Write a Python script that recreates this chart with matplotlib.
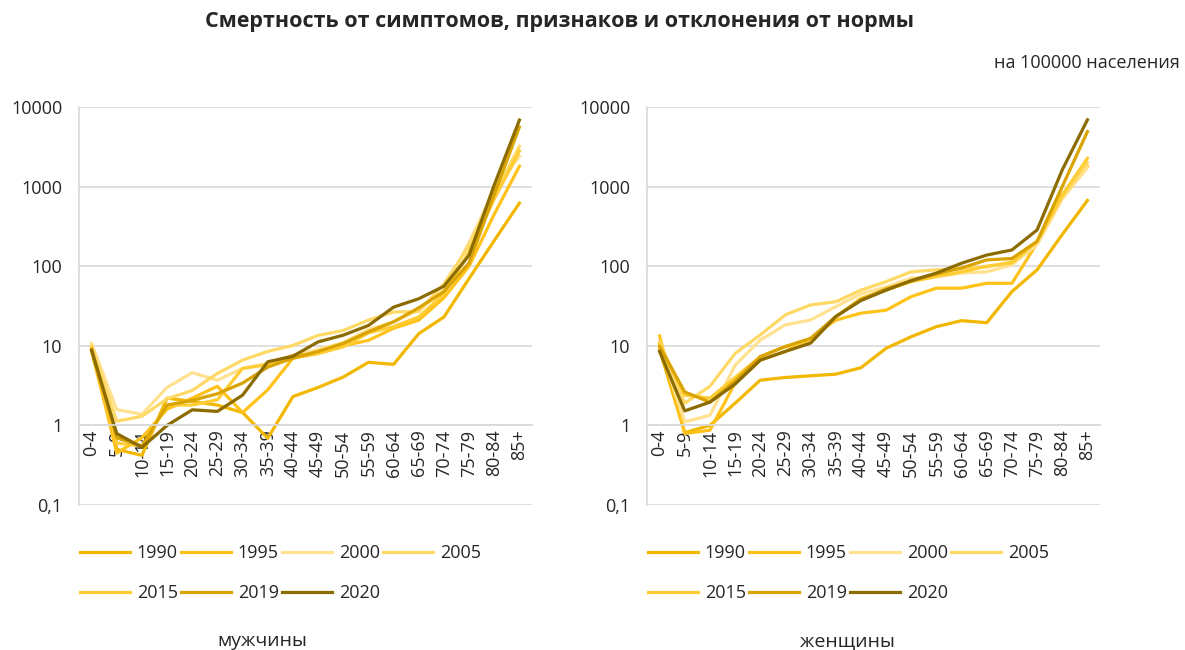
import matplotlib
matplotlib.use("Agg")
import matplotlib.pyplot as plt

plt.rcParams['font.family'] = ['Open Sans', 'DejaVu Sans']

categories = ["0-4", "5-9", "10-14", "15-19", "20-24", "25-29", "30-34", "35-39",
              "40-44", "45-49", "50-54", "55-59", "60-64", "65-69", "70-74",
              "75-79", "80-84", "85+"]
years = ["1990", "1995", "2000", "2005", "2015", "2019", "2020"]

# мужчины
men_1990 = [8.5, 0.5, 0.42, 2.2, 2.0, 1.8, 1.45, 0.69, 2.3, 3.0, 4.05, 6.2, 5.85, 14.2, 23, 70, 210, 620]
men_1995 = [9.5, 0.45, 0.7, 1.6, 2.2, 3.1, 1.45, 2.8, 7.0, 8.0, 10.0, 11.7, 16.6, 21, 40, 100, 450, 1800]
men_2000 = [10.7, 1.58, 1.38, 3.0, 4.6, 3.7, 5.2, 6.0, 7.5, 9.0, 11.0, 16, 20, 28, 50, 200, 900, 2400]
men_2005 = [10.0, 1.13, 1.3, 2.16, 2.75, 4.5, 6.6, 8.5, 10.1, 13.5, 15.6, 21, 26.6, 27, 60, 180, 800, 3200]
men_2015 = [9.5, 0.6, 0.55, 1.8, 1.8, 2.1, 5.2, 5.8, 7.6, 8.0, 9.7, 14.5, 17.5, 23, 45, 150, 700, 2800]
men_2019 = [9.0, 0.7, 0.55, 1.8, 2.06, 2.5, 3.4, 5.4, 7.0, 8.5, 10.7, 15, 20, 30, 48, 110, 800, 5600]
men_2020 = [8.8, 0.79, 0.53, 1.0, 1.57, 1.5, 2.4, 6.3, 7.4, 11.2, 13.6, 18, 30.6, 39, 56, 137, 1050, 6850]

# женщины
women_1990 = [9.0, 0.81, 1.0, 1.9, 3.7, 4.0, 4.2, 4.4, 5.3, 9.3, 13, 17.4, 20.7, 19.5, 48, 90, 250, 670]
women_1995 = [13.3, 0.79, 0.87, 3.4, 6.6, 8.5, 12.4, 21, 25.7, 28, 41.5, 53, 53, 61, 61, 195, 800, 1800]
women_2000 = [10.0, 1.11, 1.34, 5.7, 11.8, 18.3, 21.1, 31, 45, 55, 71, 74, 82, 85, 104, 186, 700, 1730]
women_2005 = [11.3, 1.9, 3.1, 8.0, 13.7, 24.5, 32.6, 35.8, 50, 64, 85, 90, 94, 98, 114, 205, 750, 2000]
women_2015 = [10.5, 2.4, 2.2, 4.0, 7.3, 9.8, 11.0, 23, 39.5, 50, 64, 74, 85, 100, 110, 205, 780, 2270]
women_2019 = [9.8, 2.63, 1.96, 3.6, 7.3, 9.8, 12.4, 23.3, 38, 52, 65, 80, 95, 120, 125, 205, 1000, 4900]
women_2020 = [8.5, 1.52, 1.96, 3.3, 6.6, 8.5, 10.8, 23.3, 37, 50, 66, 82, 109, 138, 160, 285, 1620, 6900]

y_ticks = [0.1, 1, 10, 100, 1000, 10000]
y_tick_labels = ["0,1", "1", "10", "100", "1000", "10000"]

colors = ["#F2B700", "#FFC21A", "#FFE18F", "#FFD966", "#FFCC33", "#D9A300", "#8C6B00"]

men = [men_1990, men_1995, men_2000, men_2005, men_2015, men_2019, men_2020]
women = [women_1990, women_1995, women_2000, women_2005, women_2015, women_2019, women_2020]

fig = plt.figure(figsize=(11.85, 6.5), dpi=100)

fig.text(560 / 1185, 1 - 22 / 650, "Смертность от симптомов, признаков и отклонения от нормы",
         ha="center", va="center", fontsize=15.5, fontweight="bold", color="#262626")
fig.text(1180 / 1185, 1 - 63 / 650, "на 100000 населения", ha="right", va="center",
         fontsize=13, color="#262626")

panels = [
    (79, men, "мужчины", 262),
    (647, women, "женщины", 847),
]

# row-major legend order for ncol=4 (matplotlib fills column by column)
legend_order = [0, 4, 1, 5, 2, 6, 3]

for left_px, data, sub, sub_x in panels:
    ax = fig.add_axes([left_px / 1185, 1 - 505 / 650, 453 / 1185, 398 / 650])
    x = list(range(len(categories)))
    lines = []
    for yr, vals, c in zip(years, data, colors):
        ln, = ax.plot(x, vals, color=c, lw=2.3, label=yr, solid_joinstyle="round")
        lines.append(ln)
    ax.set_yscale("log")
    ax.set_ylim(0.1, 10000)
    ax.set_xlim(-0.5, len(categories) - 0.5)
    ax.set_yticks(y_ticks)
    ax.set_yticklabels(y_tick_labels)
    ax.yaxis.set_minor_locator(matplotlib.ticker.NullLocator())
    ax.grid(axis="y", color="#D9D9D9", lw=1.2)
    ax.set_axisbelow(True)
    for s in ["top", "right"]:
        ax.spines[s].set_visible(False)
    ax.spines["left"].set_color("#D9D9D9")
    ax.spines["left"].set_linewidth(1.2)
    ax.spines["bottom"].set_position(("data", 1))
    ax.spines["bottom"].set_color("#D9D9D9")
    ax.spines["bottom"].set_linewidth(1.2)
    ax.set_xticks(x)
    ax.set_xticklabels(categories, rotation=90, fontsize=13, color="#262626")
    ax.tick_params(axis="x", length=0, pad=3)
    ax.tick_params(axis="y", length=0, pad=12, labelsize=13, labelcolor="#262626")
    h = [lines[i] for i in legend_order]
    l = [years[i] for i in legend_order]
    leg = ax.legend(h, l, loc="upper left", bbox_to_anchor=(0.003, -0.0976), ncol=4,
                    frameon=False, fontsize=13, handlelength=2.75, handletextpad=0.38,
                    columnspacing=0.19, labelspacing=1.22, borderaxespad=0, borderpad=0)
    for t in leg.get_texts():
        t.set_color("#262626")
    fig.text(sub_x / 1185, 1 - 641 / 650, sub, ha="center", va="center", fontsize=14,
             color="#262626")

fig.savefig("out.png", dpi=100)
